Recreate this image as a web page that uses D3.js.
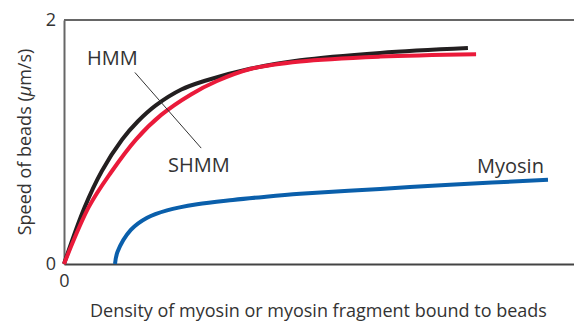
<!DOCTYPE html>
<html>
<head>
<meta charset="utf-8">
<script src="https://cdn.jsdelivr.net/npm/d3@7"></script>
<style>
  html, body { margin: 0; padding: 0; background: #fff; }
  svg { display: block; }
  text { font-family: "Open Sans", "Noto Sans", sans-serif; fill: #333; }
</style>
</head>
<body>
<svg id="chart" width="574" height="322"></svg>
<script>
// ---- data (x: density, arbitrary units 0-10; y: speed in µm/s) ----
const hmmX   = [0, 0.40, 0.74, 1.14, 1.45, 1.80, 2.30, 2.75, 3.65, 4.63, 6.20, 7.92];
const hmmY   = [0, 0.46, 0.76, 1.02, 1.17, 1.30, 1.43, 1.50, 1.60, 1.67, 1.73, 1.77];
const shmmX  = [0, 0.49, 0.92, 1.41, 1.90, 2.49, 3.00, 3.67, 4.63, 6.20, 8.08];
const shmmY  = [0, 0.47, 0.75, 1.02, 1.22, 1.39, 1.50, 1.60, 1.66, 1.70, 1.72];
const myoX   = [1.0, 1.05, 1.31, 1.63, 2.02, 2.61, 3.31, 3.92, 4.63, 6.20, 7.57, 9.49];
const myoY   = [0, 0.10, 0.28, 0.38, 0.44, 0.49, 0.525, 0.55, 0.575, 0.615, 0.65, 0.69];
const yTicks = [0, 2];
const xTicks = [0];
const seriesNames = ["HMM", "SHMM", "Myosin"];
const seriesColors = ["#231f20", "#ea1a3a", "#0a5fab"];

const svg = d3.select("#chart");
const margin = { left: 64, top: 20, right: 0, bottom: 58 };
const W = 574, H = 322;

const x = d3.scaleLinear().domain([0, 10]).range([margin.left, W - margin.right]);
const y = d3.scaleLinear().domain([0, 2]).range([H - margin.bottom, margin.top]);

// frame: top line
svg.append("line")
  .attr("x1", x(0)).attr("x2", x(10))
  .attr("y1", y(2)).attr("y2", y(2))
  .attr("stroke", "#666").attr("stroke-width", 2);

// left axis
const yAxis = svg.append("g")
  .attr("transform", `translate(${x(0)},0)`)
  .call(d3.axisLeft(y).tickValues(yTicks).tickSize(0).tickPadding(8).tickFormat(d3.format("d")));
yAxis.select(".domain").attr("stroke", "#666").attr("stroke-width", 2);
yAxis.selectAll("text").style("font-size", "18px").attr("fill", "#333")
  .attr("font-family", "Open Sans, Noto Sans, sans-serif");

// bottom axis
const xAxis = svg.append("g")
  .attr("transform", `translate(0,${y(0)})`)
  .call(d3.axisBottom(x).tickValues(xTicks).tickSize(0).tickPadding(10).tickFormat(d3.format("d")));
xAxis.select(".domain").attr("stroke", "#444").attr("stroke-width", 2);
xAxis.selectAll("text").style("font-size", "18px").attr("fill", "#333")
  .attr("font-family", "Open Sans, Noto Sans, sans-serif");

// curves
const line = d3.line().x(d => x(d[0])).y(d => y(d[1])).curve(d3.curveCatmullRom.alpha(0.5));
const series = [
  d3.zip(hmmX, hmmY),
  d3.zip(shmmX, shmmY),
  d3.zip(myoX, myoY)
];
series.forEach((pts, i) => {
  svg.append("path")
    .datum(pts)
    .attr("d", line)
    .attr("fill", "none")
    .attr("stroke", seriesColors[i])
    .attr("stroke-width", 4)
    .attr("stroke-linecap", "butt");
});

// leader line (HMM / SHMM)
svg.append("line")
  .attr("x1", x(1.39)).attr("y1", y(1.57))
  .attr("x2", x(2.69)).attr("y2", y(0.95))
  .attr("stroke", "#333").attr("stroke-width", 1);

// labels
const labels = [
  { t: seriesNames[0], x: 0.45, y: 1.631, a: "start" },
  { t: seriesNames[1], x: 2.04, y: 0.754, a: "start" },
  { t: seriesNames[2], x: 9.41, y: 0.746, a: "end" }
];
labels.forEach(l => {
  svg.append("text")
    .attr("x", x(l.x)).attr("y", y(l.y))
    .attr("text-anchor", l.a)
    .style("font-size", "20px")
    .text(l.t);
});

// axis titles
const yt = svg.append("text")
  .attr("transform", `translate(31,142) rotate(-90)`)
  .attr("text-anchor", "middle")
  .style("font-size", "18px");
yt.append("tspan").text("Speed of beads (");
yt.append("tspan").attr("font-style", "italic").text("μ");
yt.append("tspan").text("m/s)");

svg.append("text")
  .attr("x", 318.5).attr("y", 317)
  .attr("text-anchor", "middle")
  .style("font-size", "18px")
  .text("Density of myosin or myosin fragment bound to beads");
</script>
</body>
</html>
